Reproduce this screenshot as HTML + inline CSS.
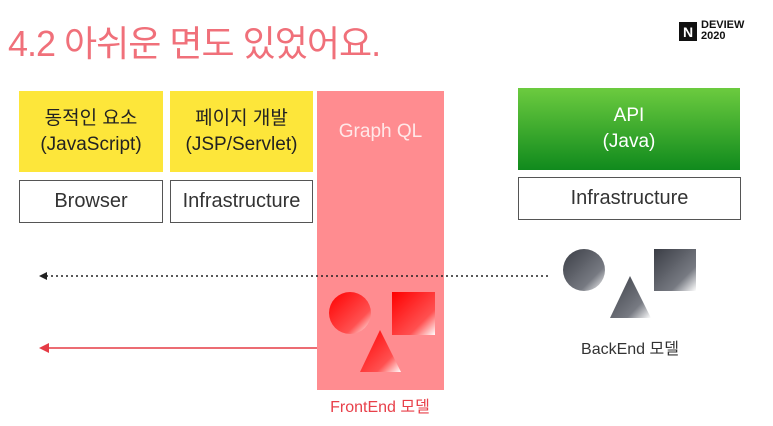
<!DOCTYPE html>
<html><head><meta charset="utf-8"><style>
body{margin:0;width:773px;height:426px;background:#fff;position:relative;overflow:hidden;font-family:"Liberation Sans","Noto Sans CJK KR",sans-serif}
.a{position:absolute;box-sizing:border-box;display:flex;align-items:center;justify-content:center;text-align:center}
.y{background:#fde63a;color:#222;font-size:19px;line-height:26px}
.w{border:1.5px solid #555;background:#fff;color:#333;font-size:20px}
</style></head><body>
<div class="a" style="left:8px;top:16px;height:50px;color:#f0707a;font-size:36px;letter-spacing:-1px;justify-content:flex-start">4.2 아쉬운 면도 있었어요.</div>
<div class="a" style="left:679px;top:22px;width:18px;height:19px;background:#111;color:#fff;font-size:14px;font-weight:bold">N</div>
<div style="position:absolute;left:701px;top:20px;font-size:11px;font-weight:bold;line-height:11px;color:#111">DEVIEW<br>2020</div>
<div class="a y" style="left:19px;top:91px;width:144px;height:81px">동적인 요소<br>(JavaScript)</div>
<div class="a y" style="left:170px;top:91px;width:143px;height:81px">페이지 개발<br>(JSP/Servlet)</div>
<div class="a w" style="left:19px;top:180px;width:144px;height:43px">Browser</div>
<div class="a w" style="left:170px;top:180px;width:143px;height:43px">Infrastructure</div>
<div class="a" style="left:317px;top:91px;width:127px;height:299px;background:#ff8c90;color:#ffe8e8;font-size:19px;align-items:flex-start;padding-top:30px">Graph QL</div>
<div class="a" style="left:518px;top:88px;width:222px;height:82px;background:linear-gradient(#6ccb3f,#108a1d);color:#fff;font-size:19px;line-height:26px">API<br>(Java)</div>
<div class="a w" style="left:518px;top:177px;width:223px;height:43px">Infrastructure</div>
<svg style="position:absolute;left:0;top:0" width="773" height="426">
<defs>
<linearGradient id="r" x1="0" y1="0" x2="1" y2="1"><stop offset="0" stop-color="#ff0000"/><stop offset="0.7" stop-color="#ff5050"/><stop offset="1" stop-color="#fff"/></linearGradient>
<linearGradient id="g" x1="0" y1="0" x2="1" y2="1"><stop offset="0" stop-color="#3a3d45"/><stop offset="0.7" stop-color="#777a82"/><stop offset="1" stop-color="#fff"/></linearGradient>
</defs>
<line x1="46" y1="276" x2="548" y2="276" stroke="#222" stroke-width="1.5" stroke-dasharray="2,3"/>
<polygon points="39,276 47,272 47,280" fill="#222"/>
<line x1="46" y1="348" x2="317" y2="348" stroke="#e53b45" stroke-width="1.5"/>
<polygon points="39,348 49,343 49,353" fill="#e53b45"/>
<circle cx="350" cy="313" r="21" fill="url(#r)"/>
<rect x="392" y="292" width="43" height="43" fill="url(#r)"/>
<polygon points="380,330 401,372 360,372" fill="url(#r)"/>
<circle cx="584" cy="270" r="21" fill="url(#g)"/>
<rect x="654" y="249" width="42" height="42" fill="url(#g)"/>
<polygon points="630,276 651,318 610,318" fill="url(#g)"/>
</svg>
<div class="a" style="left:530px;top:335px;width:200px;height:24px;color:#333;font-size:16px">BackEnd 모델</div>
<div class="a" style="left:300px;top:393px;width:160px;height:24px;color:#e8404a;font-size:16px">FrontEnd 모델</div>
</body></html>
